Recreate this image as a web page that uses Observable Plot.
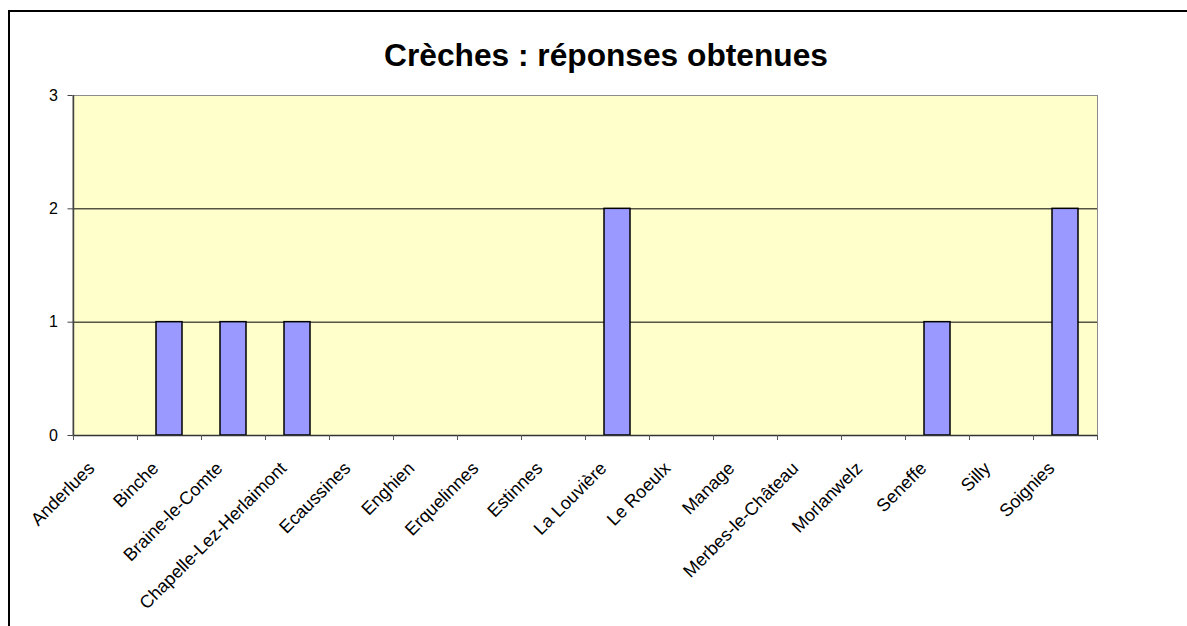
<!DOCTYPE html>
<html>
<head>
<meta charset="utf-8">
<script src="https://cdn.jsdelivr.net/npm/d3@7"></script>
<script src="https://cdn.jsdelivr.net/npm/@observablehq/plot@0.6"></script>
<style>
  html, body { margin: 0; padding: 0; background: #fff; }
  #wrap { position: relative; width: 1187px; height: 626px; overflow: hidden; font-family: "Liberation Sans", Arial, sans-serif; }
  #border { position: absolute; left: 8px; top: 10px; width: 1300px; height: 800px; border-left: 2px solid #000; border-top: 2px solid #000; }
  #title { position: absolute; top: 39px; left: 0; width: 1212px; text-align: center; font-weight: bold; font-size: 31.7px; line-height: 32px; color: #000; }
  #chart { position: absolute; left: 0; top: 0; }
</style>
</head>
<body>
<div id="wrap">
  <div id="border"></div>
  <div id="title">Crèches : réponses obtenues</div>
  <div id="chart"></div>
</div>
<script>
const categories = ["Anderlues", "Binche", "Braine-le-Comte", "Chapelle-Lez-Herlaimont", "Ecaussines", "Enghien", "Erquelinnes", "Estinnes", "La Louvière", "Le Roeulx", "Manage", "Merbes-le-Château", "Morlanwelz", "Seneffe", "Silly", "Soignies"];
const values = [0, 1, 1, 1, 0, 0, 0, 0, 2, 0, 0, 0, 0, 1, 0, 2];
const yTicks = [0, 1, 2, 3];

const data = categories.map((c, i) => ({cat: c, v: values[i]}));

const W = 1187, H = 626;
const mL = 72.5, mR = 90, mT = 95, mB = 191;
const step = (W - mL - mR) / categories.length;

const plot = Plot.plot({
  width: W,
  height: H,
  marginLeft: mL,
  marginRight: mR,
  marginTop: mT,
  marginBottom: mB,
  style: {fontFamily: "'Liberation Sans', Arial, sans-serif", fontSize: "15px", background: "transparent", overflow: "visible"},
  x: {type: "band", domain: categories, paddingInner: 0.6, paddingOuter: 0.3, axis: null, label: null},
  y: {domain: [0, 3], axis: null, label: null},
  marks: [
    Plot.frame({fill: "#FFFFCC", stroke: "#8c8c8c"}),
    Plot.ruleY([1, 2], {stroke: "#000", strokeWidth: 1}),
    Plot.barY(data.filter(d => d.v > 0), {x: "cat", y: "v", fill: "#9999FF", stroke: "#000", strokeWidth: 1.5}),
    Plot.ruleY([0], {stroke: "#333", strokeWidth: 1.5}),
    Plot.ruleX([categories[0]], {dx: -step / 2, stroke: "#444", strokeWidth: 1.5}),
    Plot.axisX({tickSize: 5, tickFormat: () => "", label: null, dx: -step / 2, stroke: "#555"}),
    Plot.axisX([categories[categories.length - 1]], {tickSize: 5, tickFormat: () => "", label: null, dx: step / 2, stroke: "#555"}),
    Plot.axisY(yTicks, {tickSize: 5, tickFormat: () => "", label: null, stroke: "#444"}),
    Plot.text(yTicks, {y: d => d, frameAnchor: "left", text: d => String(d), textAnchor: "end", dx: -15, fontSize: 16, fill: "#000"}),
    Plot.text(data, {x: "cat", y: () => 0, text: "cat", rotate: -45, textAnchor: "end", lineAnchor: "bottom", dx: -10, dy: 34, fontSize: 18, fill: "#000"})
  ]
});
document.getElementById("chart").appendChild(plot);
</script>
</body>
</html>
